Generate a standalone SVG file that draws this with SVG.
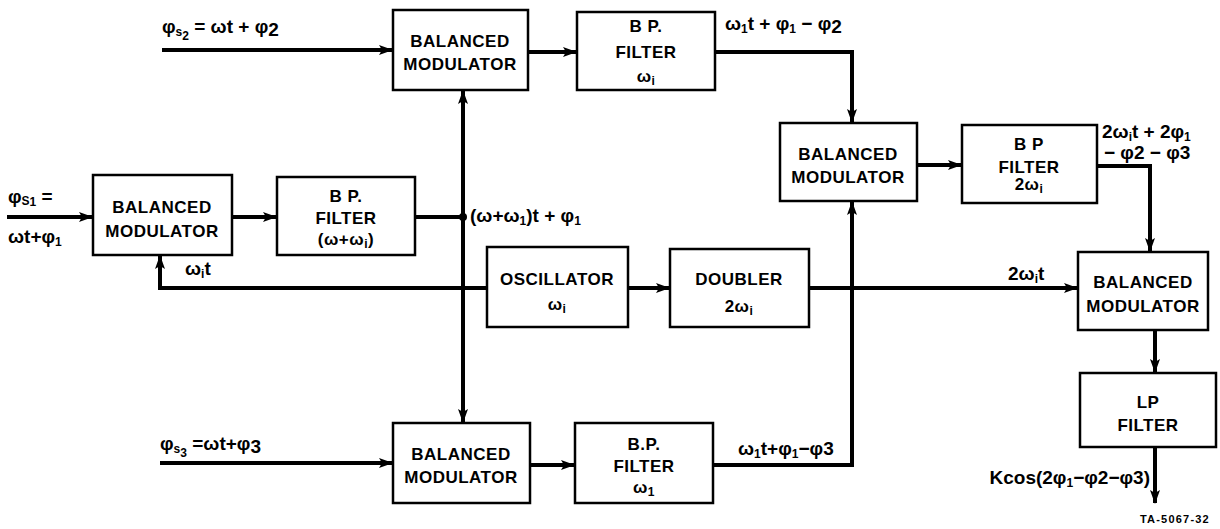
<svg xmlns="http://www.w3.org/2000/svg" width="1220" height="529" viewBox="0 0 1220 529">
<style>
.box{fill:#fff;stroke:#000;stroke-width:2.5}
.t{font-family:"Liberation Sans",Arial,sans-serif;font-weight:bold;font-size:17px;text-anchor:middle;fill:#000;letter-spacing:0.5px}
.l{font-family:"Liberation Sans",Arial,sans-serif;font-weight:bold;font-size:19px;fill:#000}
.s{font-size:12px}
.w{stroke:#000;stroke-width:4;fill:none;stroke-linejoin:miter}
</style>
<defs>
<marker id="a" markerUnits="userSpaceOnUse" markerWidth="14" markerHeight="10" refX="13" refY="5" orient="auto"><path d="M0,0 L14,5 L0,10 L3,5 z" fill="#000"/></marker>
</defs>
<g id="connectors">
<path class="w" d="M162,50 H392" marker-end="url(#a)"/>
<path class="w" d="M528,52 H576" marker-end="url(#a)"/>
<path class="w" d="M715,52 H852 V122" marker-end="url(#a)"/>
<path class="w" d="M463,217 V91" marker-end="url(#a)"/>
<path class="w" d="M463,217 V422" marker-end="url(#a)"/>
<circle cx="463" cy="217" r="4" fill="#000"/>
<path class="w" d="M7,217 H92" marker-end="url(#a)"/>
<path class="w" d="M232,217 H276" marker-end="url(#a)"/>
<path class="w" d="M415,217 H463"/>
<path class="w" d="M487,288 H160 V256" marker-end="url(#a)"/>
<path class="w" d="M628,288 H669" marker-end="url(#a)"/>
<path class="w" d="M809,288 H1077" marker-end="url(#a)"/>
<path class="w" d="M917,165 H961" marker-end="url(#a)"/>
<path class="w" d="M1097,166 H1150 V251" marker-end="url(#a)"/>
<path class="w" d="M1155,330 V372" marker-end="url(#a)"/>
<path class="w" d="M1155,447 V503" marker-end="url(#a)"/>
<path class="w" d="M160,463 H392" marker-end="url(#a)"/>
<path class="w" d="M530,465 H574" marker-end="url(#a)"/>
<path class="w" d="M713,465 H852 V202" marker-end="url(#a)"/>
</g>
<g id="bm_top"><rect class="box" x="393" y="10" width="135" height="80"/><text class="t" x="460" y="47">BALANCED</text><text class="t" x="460" y="70">MODULATOR</text></g>
<g id="bp_top"><rect class="box" x="577" y="12" width="138" height="78"/><text class="t" x="646" y="32">B P.</text><text class="t" x="646" y="58">FILTER</text><text class="t" x="646" y="82">ω<tspan class="s" dy="3">i</tspan></text></g>
<g id="bm_left"><rect class="box" x="93" y="175" width="139" height="80"/><text class="t" x="162" y="213">BALANCED</text><text class="t" x="162" y="237">MODULATOR</text></g>
<g id="bp_left"><rect class="box" x="277" y="177" width="138" height="78"/><text class="t" x="346" y="202">B P.</text><text class="t" x="346" y="224">FILTER</text><text class="t" x="346" y="245">(ω+ω<tspan class="s" dy="3">i</tspan><tspan dy="-3">)</tspan></text></g>
<g id="osc"><rect class="box" x="487" y="247" width="141" height="80"/><text class="t" x="557" y="285">OSCILLATOR</text><text class="t" x="557" y="310">ω<tspan class="s" dy="3">i</tspan></text></g>
<g id="doubler"><rect class="box" x="670" y="249" width="139" height="78"/><text class="t" x="739" y="285">DOUBLER</text><text class="t" x="739" y="312">2ω<tspan class="s" dy="3">i</tspan></text></g>
<g id="bm_mid"><rect class="box" x="780" y="123" width="137" height="78"/><text class="t" x="848" y="160">BALANCED</text><text class="t" x="848" y="183">MODULATOR</text></g>
<g id="bp_2w"><rect class="box" x="962" y="125" width="135" height="78"/><text class="t" x="1029" y="150">B P</text><text class="t" x="1029" y="173">FILTER</text><text class="t" x="1029" y="190">2ω<tspan class="s" dy="3">i</tspan></text></g>
<g id="bm_right"><rect class="box" x="1078" y="252" width="130" height="78"/><text class="t" x="1143" y="288">BALANCED</text><text class="t" x="1143" y="312">MODULATOR</text></g>
<g id="lp"><rect class="box" x="1080" y="373" width="136" height="74"/><text class="t" x="1148" y="408">LP</text><text class="t" x="1148" y="431">FILTER</text></g>
<g id="bm_bot"><rect class="box" x="393" y="423" width="137" height="80"/><text class="t" x="461" y="460">BALANCED</text><text class="t" x="461" y="483">MODULATOR</text></g>
<g id="bp_bot"><rect class="box" x="575" y="423" width="138" height="80"/><text class="t" x="644" y="450">B.P.</text><text class="t" x="644" y="472">FILTER</text><text class="t" x="644" y="493">ω<tspan class="s" dy="3">1</tspan></text></g>
<g id="labels">
<text class="l" x="162" y="33">φ<tspan class="s" dy="3">s</tspan><tspan class="s" dy="4">2</tspan><tspan dy="-7"> = ωt + φ</tspan><tspan dy="3">2</tspan></text>
<text class="l" x="725" y="30">ω<tspan class="s" dy="3">1</tspan><tspan dy="-3">t + φ</tspan><tspan class="s" dy="3">1</tspan><tspan dy="-3"> − φ</tspan><tspan dy="3">2</tspan></text>
<text class="l" x="8" y="203">φ<tspan class="s" dy="2">S</tspan><tspan class="s" dy="1">1</tspan><tspan dy="-3"> =</tspan></text>
<text class="l" x="8" y="243">ωt+φ<tspan class="s" dy="3">1</tspan></text>
<text class="l" x="470" y="222">(ω+ω<tspan class="s" dy="3">1</tspan><tspan dy="-3">)t + φ</tspan><tspan class="s" dy="3">1</tspan></text>
<text class="l" x="185" y="275">ω<tspan class="s" dy="3">i</tspan><tspan dy="-3">t</tspan></text>
<text class="l" x="1008" y="280">2ω<tspan class="s" dy="3">i</tspan><tspan dy="-3">t</tspan></text>
<text class="l" x="1102" y="138">2ω<tspan class="s" dy="3">i</tspan><tspan dy="-3">t + 2φ</tspan><tspan class="s" dy="3">1</tspan></text>
<text class="l" x="1104" y="159">− φ2 − φ3</text>
<text class="l" x="1150" y="484" text-anchor="end">Kcos(2φ<tspan class="s" dy="3">1</tspan><tspan dy="-3">−φ2−φ3)</tspan></text>
<text class="l" x="160" y="450">φ<tspan class="s" dy="3">s</tspan><tspan class="s" dy="4">3</tspan><tspan dy="-7"> =ωt+φ</tspan><tspan dy="3">3</tspan></text>
<text class="l" x="738" y="455">ω<tspan class="s" dy="3">1</tspan><tspan dy="-3">t+φ</tspan><tspan class="s" dy="3">1</tspan><tspan dy="-3">−φ3</tspan></text>
<text x="1140" y="523" style="font-family:'Liberation Sans',Arial,sans-serif;font-weight:bold;font-size:11px;letter-spacing:1.2px">TA-5067-32</text>
</g>
</svg>
